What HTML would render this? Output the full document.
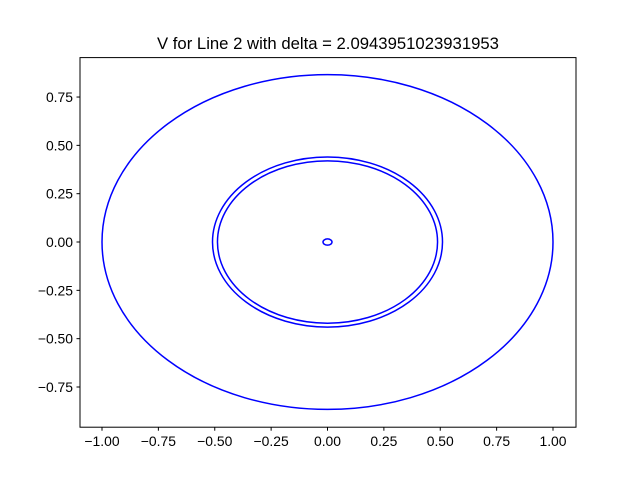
<!DOCTYPE html>
<html><head><meta charset="utf-8"><style>
body{margin:0;background:#fff}
svg text{font-family:"Liberation Sans","DejaVu Sans",sans-serif;fill:#000}
</style></head><body>
<svg width="640" height="480" xmlns="http://www.w3.org/2000/svg">
<rect width="640" height="480" fill="#fff"/>
<text x="328" y="49" font-size="16.7" text-anchor="middle">V for Line 2 with delta = 2.0943951023931953</text>
<g id="marks"></g>
<rect x="80" y="57.6" width="496" height="369.6" fill="none" stroke="#000" stroke-width="1"/>
<g id="xt"></g><g id="yt"></g>
</svg>
<script>
const xTicks=[-1.0,-0.75,-0.5,-0.25,0,0.25,0.5,0.75,1.0];
const yTicks=[-0.75,-0.5,-0.25,0,0.25,0.5,0.75];
const ellipseRx=[1.0,0.51,0.488,0.02];
const ellipseRy=[0.866,0.44,0.42,0.016];
const xMin=-1.0976,xMax=1.102,yMin=-0.958,yMax=0.954;
const L=80,R=576,T=57.6,B=427.2;
const sx=v=>L+(v-xMin)/(xMax-xMin)*(R-L);
const sy=v=>B-(v-yMin)/(yMax-yMin)*(B-T);
const NS="http://www.w3.org/2000/svg";
const marks=document.getElementById('marks');
ellipseRx.forEach((rx,i)=>{
 const e=document.createElementNS(NS,'ellipse');
 e.setAttribute('cx',sx(0));e.setAttribute('cy',sy(0));
 e.setAttribute('rx',sx(rx)-sx(0));e.setAttribute('ry',sy(0)-sy(ellipseRy[i]));
 e.setAttribute('fill','none');e.setAttribute('stroke','#0000ff');e.setAttribute('stroke-width','1.5');
 
 
 marks.appendChild(e);
});
const xt=document.getElementById('xt');
xTicks.forEach(v=>{
 const x=sx(v);
 const l=document.createElementNS(NS,'line');
 l.setAttribute('x1',x);l.setAttribute('x2',x);l.setAttribute('y1',B);l.setAttribute('y2',B+3.5);l.setAttribute('stroke','#000');
 
 
 xt.appendChild(l);
 const t=document.createElementNS(NS,'text');
 t.setAttribute('x',x);t.setAttribute('y',B+19);t.setAttribute('font-size','13.9');t.setAttribute('text-anchor','middle');
 t.textContent=(v<0?'\u2212':'')+Math.abs(v).toFixed(2);
 
 
 xt.appendChild(t);
});
const yt=document.getElementById('yt');
yTicks.forEach(v=>{
 const y=sy(v);
 const l=document.createElementNS(NS,'line');
 l.setAttribute('x1',L-3.5);l.setAttribute('x2',L);l.setAttribute('y1',y);l.setAttribute('y2',y);l.setAttribute('stroke','#000');
 
 
 yt.appendChild(l);
 const t=document.createElementNS(NS,'text');
 t.setAttribute('x',L-7);t.setAttribute('y',y+5);t.setAttribute('font-size','13.9');t.setAttribute('text-anchor','end');
 t.textContent=(v<0?'\u2212':'')+Math.abs(v).toFixed(2);
 
 
 yt.appendChild(t);
});
</script>
</body></html>
